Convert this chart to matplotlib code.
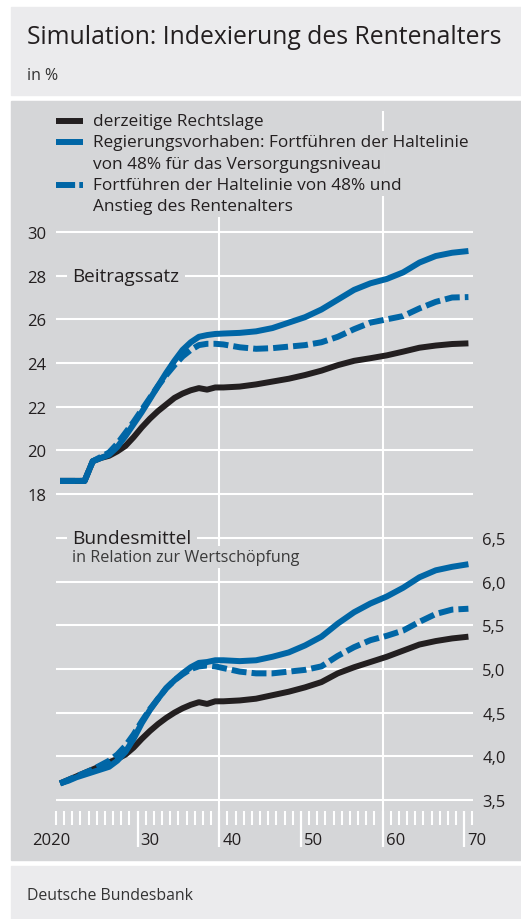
import matplotlib
matplotlib.use("Agg")
import matplotlib.pyplot as plt
import matplotlib.transforms as mtransforms
from matplotlib.patches import Rectangle
from matplotlib.lines import Line2D

plt.rcParams['font.family'] = ['Open Sans', 'DejaVu Sans']

# -----------------------------
# Data
# -----------------------------
years = [2020, 2021, 2022, 2023, 2024, 2025, 2026, 2027, 2028, 2029,
         2030, 2031, 2032, 2033, 2034, 2035, 2036, 2037, 2038, 2039,
         2040, 2042, 2044, 2046, 2048, 2050, 2052, 2054, 2056, 2058,
         2060, 2062, 2064, 2066, 2068, 2070]

# Beitragssatz
beitrag_recht = [18.6, 18.6, 18.6, 18.6, 19.5, 19.65, 19.75, 19.95, 20.2, 20.6,
                 21.05, 21.45, 21.8, 22.1, 22.4, 22.6, 22.75, 22.85, 22.78, 22.88,
                 22.88, 22.92, 23.02, 23.15, 23.28, 23.45, 23.65, 23.9, 24.1, 24.22,
                 24.35, 24.52, 24.7, 24.8, 24.87, 24.9]
beitrag_regierung = [18.6, 18.6, 18.6, 18.6, 19.5, 19.65, 19.8, 20.15, 20.65, 21.2,
                     21.75, 22.35, 22.95, 23.55, 24.1, 24.6, 24.95, 25.2, 25.28, 25.33,
                     25.35, 25.38, 25.45, 25.6, 25.85, 26.1, 26.45, 26.9, 27.35, 27.65,
                     27.85, 28.15, 28.6, 28.9, 29.05, 29.13]
beitrag_alter = [18.6, 18.6, 18.6, 18.6, 19.5, 19.7, 19.9, 20.3, 20.8, 21.3,
                 21.85, 22.4, 22.95, 23.45, 23.9, 24.3, 24.6, 24.82, 24.88, 24.88,
                 24.85, 24.72, 24.65, 24.68, 24.75, 24.82, 24.95, 25.2, 25.55, 25.85,
                 26.0, 26.15, 26.5, 26.8, 27.0, 27.02]

# Bundesmittel in Relation zur Wertschoepfung
bund_recht = [3.69, 3.73, 3.77, 3.81, 3.85, 3.89, 3.93, 3.97, 4.02, 4.1,
              4.2, 4.29, 4.37, 4.44, 4.5, 4.55, 4.59, 4.62, 4.6, 4.63,
              4.63, 4.64, 4.66, 4.7, 4.74, 4.79, 4.85, 4.95, 5.02, 5.08,
              5.14, 5.21, 5.28, 5.32, 5.35, 5.37]
bund_regierung = [3.69, 3.72, 3.76, 3.79, 3.82, 3.85, 3.88, 3.95, 4.05, 4.2,
                  4.38, 4.53, 4.66, 4.78, 4.87, 4.95, 5.02, 5.07, 5.08, 5.1,
                  5.1, 5.09, 5.1, 5.14, 5.19, 5.27, 5.37, 5.52, 5.65, 5.75,
                  5.83, 5.93, 6.05, 6.13, 6.17, 6.2]
bund_alter = [3.69, 3.73, 3.77, 3.81, 3.85, 3.9, 3.95, 4.02, 4.12, 4.25,
              4.4, 4.54, 4.66, 4.78, 4.87, 4.94, 5.0, 5.03, 5.04, 5.03,
              5.01, 4.97, 4.95, 4.95, 4.97, 4.99, 5.03, 5.15, 5.25, 5.33,
              5.38, 5.44, 5.54, 5.63, 5.68, 5.69]

top_ticks = [18, 20, 22, 24, 26, 28, 30]
bottom_ticks = [3.5, 4.0, 4.5, 5.0, 5.5, 6.0, 6.5]
bottom_ticklabels = ['3,5', '4,0', '4,5', '5,0', '5,5', '6,0', '6,5']
x_major = [2030, 2040, 2050, 2060, 2070]
x_labels = ['30', '40', '50', '60', '70']

legend_labels = ['derzeitige Rechtslage',
                 'Regierungsvorhaben: Fortführen der Haltelinie\nvon 48% für das Versorgungsniveau',
                 'Fortführen der Haltelinie von 48% und\nAnstieg des Rentenalters']

# -----------------------------
# Styles / layout
# -----------------------------
W, H = 521, 920
BLACK = '#231f20'
BLUE = '#0066a6'
PANEL = '#d5d6d8'
LIGHT = '#ebebed'
TXT = '#231f20'
LW = 4.3
DASH = (2.5, 0.85)

fig = plt.figure(figsize=(W / 100, H / 100), dpi=100)


def fx(px):
    return px / W


def fy(py):
    return 1 - py / H


# background panels
for top, bottom, col in [(8, 96, LIGHT), (102, 861, PANEL), (867, 920, LIGHT)]:
    fig.patches.append(Rectangle((fx(11), fy(bottom)), fx(510), (bottom - top) / H,
                                 transform=fig.transFigure, color=col, zorder=-5))

fig.text(fx(27), fy(37), 'Simulation: Indexierung des Rentenalters',
         fontsize=17.8, color=TXT, va='center', ha='left')
fig.text(fx(27), fy(76), 'in %', fontsize=11.5, color='#333333', va='center', ha='left')
fig.text(fx(27), fy(896), 'Deutsche Bundesbank', fontsize=11.4, color='#333333',
         va='center', ha='left')

x_left, x_right = 56, 472.5
ax_top = fig.add_axes([fx(x_left), fy(517), fx(x_right - x_left), (517 - 112) / H])
ax_bot = fig.add_axes([fx(x_left), fy(812), fx(x_right - x_left), (812 - 517) / H])

xs = [y + 0.5 for y in years]

for ax in (ax_top, ax_bot):
    ax.set_facecolor('none')
    for s in ax.spines.values():
        s.set_visible(False)
    ax.set_xlim(2020, 2071)
    ax.grid(axis='y', color='white', linewidth=1.5)
    ax.set_axisbelow(True)
    for v in (2040, 2060):
        ax.axvline(v, color='white', linewidth=1.5, zorder=1)

# top panel
ax_top.set_ylim(18 - 22 / 21.83, 30 + (233 - 112) / 21.83)
ax_top.set_yticks(top_ticks)
ax_top.set_yticklabels([str(t) for t in top_ticks])
ax_top.tick_params(axis='y', length=0, pad=7, labelsize=12, labelcolor=TXT)
ax_top.tick_params(axis='x', which='both', bottom=False, labelbottom=False)
ax_top.plot(xs, beitrag_recht, color=BLACK, lw=LW, solid_capstyle='butt', zorder=3)
ax_top.plot(xs, beitrag_regierung, color=BLUE, lw=LW, solid_capstyle='butt', zorder=4)
ax_top.plot(xs, beitrag_alter, color=BLUE, lw=LW, dashes=DASH, dash_capstyle='butt', zorder=5)
ax_top.text(2022, 28, 'Beitragssatz', fontsize=13.6, color=TXT, va='center', ha='left',
            bbox=dict(facecolor=PANEL, edgecolor='none', pad=4), zorder=6)

# bottom panel
ax_bot.set_ylim(3.5 - 11 / 87.33, 6.5 + 22 / 87.33)
ax_bot.yaxis.tick_right()
ax_bot.set_yticks(bottom_ticks)
ax_bot.set_yticklabels(bottom_ticklabels)
ax_bot.tick_params(axis='y', length=0, pad=7, labelsize=12, labelcolor=TXT)
ax_bot.set_xticks(x_major)
ax_bot.set_xticks(range(2020, 2072), minor=True)
ax_bot.tick_params(axis='x', which='major', direction='out', length=26, width=1.6,
                   color='white', labelbottom=False)
ax_bot.tick_params(axis='x', which='minor', direction='out', length=10, width=1.5,
                   color='white')
ax_bot.plot(xs, bund_recht, color=BLACK, lw=LW, solid_capstyle='butt', zorder=3)
ax_bot.plot(xs, bund_regierung, color=BLUE, lw=LW, solid_capstyle='butt', zorder=4)
ax_bot.plot(xs, bund_alter, color=BLUE, lw=LW, dashes=DASH, dash_capstyle='butt', zorder=5)
ax_bot.text(2022, 6.5, 'Bundesmittel', fontsize=13.8, color=TXT, va='center', ha='left',
            fontweight='medium',
            bbox=dict(facecolor=PANEL, edgecolor='none', pad=4), zorder=6)
ax_bot.text(2022, 6.28, 'in Relation zur Wertschöpfung', fontsize=11.6, color='#3a3a3a',
            va='center', ha='left',
            bbox=dict(facecolor=PANEL, edgecolor='none', pad=2), zorder=6)

trans = mtransforms.blended_transform_factory(ax_bot.transData, ax_bot.transAxes)
ax_bot.text(2019.4, -0.1, '2020', transform=trans, fontsize=12, color=TXT,
            ha='center', va='center', clip_on=False)
for xv, lab in zip(x_major, x_labels):
    ax_bot.text(xv + 0.35, -0.1, lab, transform=trans, fontsize=12, color=TXT,
                ha='left', va='center', clip_on=False)

# legend
row_px = [122, 143, 165, 186, 207]
styles = [dict(color=BLACK), dict(color=BLUE), dict(color=BLUE, dashes=(3.2, 0.7, 0.75, 2))]
r = 0
for lab, st in zip(legend_labels, styles):
    fig.add_artist(Line2D([fx(56), fx(83)], [fy(row_px[r])] * 2,
                          transform=fig.transFigure, lw=LW, solid_capstyle='butt',
                          dash_capstyle='butt', **st))
    for part in lab.split('\n'):
        fig.text(fx(93), fy(row_px[r]), part, fontsize=12.4, color=TXT,
                 va='center', ha='left',
                 bbox=dict(facecolor=PANEL, edgecolor='none', pad=2))
        r += 1

plt.savefig('out.png', dpi=100)
